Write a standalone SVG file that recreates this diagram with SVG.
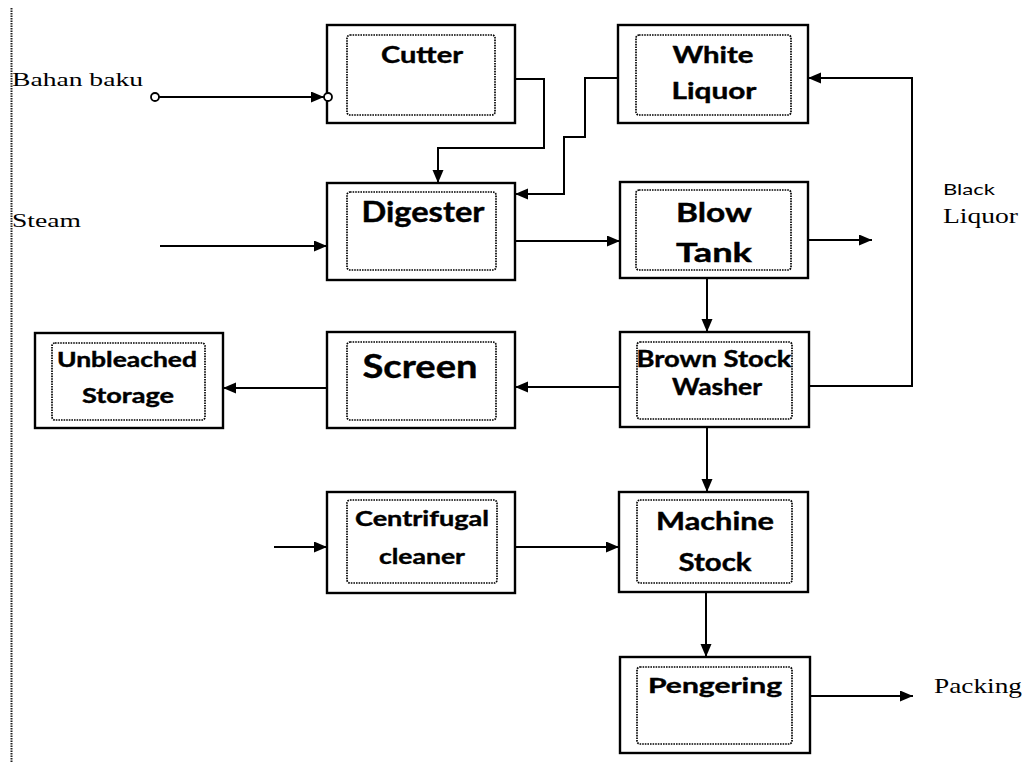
<svg xmlns="http://www.w3.org/2000/svg" width="1025" height="762" viewBox="0 0 1025 762">
<style>
.outer{fill:#fff;stroke:#000;stroke-width:2.4}
.inner{fill:none;stroke:#000;stroke-width:1.7;stroke-dasharray:1.6 1}
.lbl{font-family:Lato,"Open Sans","Liberation Sans",sans-serif;font-weight:bold;fill:#000;text-anchor:middle;stroke:#000;stroke-width:0.4}
.ser{font-family:"Liberation Serif","DejaVu Serif",serif;fill:#000}
.con{fill:none;stroke:#000;stroke-width:2}
</style>
<defs>
<marker id="ah" markerUnits="userSpaceOnUse" markerWidth="15" markerHeight="12" refX="13" refY="5.5" orient="auto">
<path d="M0,0 L13,5.5 L0,11 Z" fill="#000"/>
</marker>
</defs>
<rect width="1025" height="762" fill="#fff"/>
<line x1="11.5" y1="8" x2="11.5" y2="762" stroke="#222" stroke-width="2" stroke-dasharray="1.5 1"/>

<g id="cutter">
<rect class="outer" x="327" y="25" width="188" height="98"/>
<rect class="inner" x="347" y="35" width="148" height="80" rx="3"/>
<text class="lbl" x="422" y="63" font-size="22" textLength="82" lengthAdjust="spacingAndGlyphs">Cutter</text>
</g>
<g id="white-liquor">
<rect class="outer" x="618" y="25" width="190" height="98"/>
<rect class="inner" x="636" y="35" width="155" height="80" rx="3"/>
<text class="lbl" x="713" y="63" font-size="22" textLength="81" lengthAdjust="spacingAndGlyphs">White</text>
<text class="lbl" x="714" y="99" font-size="22" textLength="85" lengthAdjust="spacingAndGlyphs">Liquor</text>
</g>
<g id="digester">
<rect class="outer" x="327" y="183" width="188" height="97"/>
<rect class="inner" x="347" y="192" width="149" height="78" rx="3"/>
<text class="lbl" x="423" y="222" font-size="28" textLength="123" lengthAdjust="spacingAndGlyphs">Digester</text>
</g>
<g id="blow-tank">
<rect class="outer" x="620" y="182" width="188" height="96"/>
<rect class="inner" x="636" y="190" width="155" height="80" rx="3"/>
<text class="lbl" x="714" y="222" font-size="27" textLength="76" lengthAdjust="spacingAndGlyphs">Blow</text>
<text class="lbl" x="714" y="262" font-size="27" textLength="76" lengthAdjust="spacingAndGlyphs">Tank</text>
</g>
<g id="unbleached-storage">
<rect class="outer" x="35" y="333" width="188" height="95"/>
<rect class="inner" x="52" y="343" width="153" height="77" rx="3"/>
<text class="lbl" x="127" y="367" font-size="20" textLength="140" lengthAdjust="spacingAndGlyphs">Unbleached</text>
<text class="lbl" x="128" y="403" font-size="20" textLength="92" lengthAdjust="spacingAndGlyphs">Storage</text>
</g>
<g id="screen">
<rect class="outer" x="327" y="332" width="188" height="96"/>
<rect class="inner" x="347" y="342" width="149" height="78" rx="3"/>
<text class="lbl" x="420" y="378" font-size="33" textLength="115" lengthAdjust="spacingAndGlyphs">Screen</text>
</g>
<g id="brown-stock-washer">
<rect class="outer" x="620" y="332" width="189" height="95"/>
<rect class="inner" x="637" y="342" width="155" height="77" rx="3"/>
<text class="lbl" x="714" y="367" font-size="22" textLength="155" lengthAdjust="spacingAndGlyphs">Brown Stock</text>
<text class="lbl" x="717" y="395" font-size="22" textLength="90" lengthAdjust="spacingAndGlyphs">Washer</text>
</g>
<g id="centrifugal-cleaner">
<rect class="outer" x="327" y="492" width="188" height="101"/>
<rect class="inner" x="347" y="500" width="150" height="83" rx="3"/>
<text class="lbl" x="422" y="526" font-size="21" textLength="134" lengthAdjust="spacingAndGlyphs">Centrifugal</text>
<text class="lbl" x="422" y="564" font-size="21" textLength="86" lengthAdjust="spacingAndGlyphs">cleaner</text>
</g>
<g id="machine-stock">
<rect class="outer" x="619" y="492" width="189" height="100"/>
<rect class="inner" x="637" y="500" width="155" height="83" rx="3"/>
<text class="lbl" x="715" y="530" font-size="24" textLength="118" lengthAdjust="spacingAndGlyphs">Machine</text>
<text class="lbl" x="715" y="571" font-size="24" textLength="73" lengthAdjust="spacingAndGlyphs">Stock</text>
</g>
<g id="pengering">
<rect class="outer" x="620" y="657" width="190" height="96"/>
<rect class="inner" x="637" y="667" width="155" height="77" rx="3"/>
<text class="lbl" x="715" y="693" font-size="21" textLength="134" lengthAdjust="spacingAndGlyphs">Pengering</text>
</g>

<g id="labels">
<text class="ser" x="12" y="86" font-size="19" textLength="131" lengthAdjust="spacingAndGlyphs">Bahan baku</text>
<text class="ser" x="12" y="227" font-size="19" textLength="69" lengthAdjust="spacingAndGlyphs">Steam</text>
<text x="943" y="195" font-family="Lato,'Open Sans','Liberation Sans',sans-serif" font-size="16" fill="#000" textLength="52" lengthAdjust="spacingAndGlyphs">Black</text>
<text class="ser" x="943" y="223" font-size="21" textLength="75" lengthAdjust="spacingAndGlyphs">Liquor</text>
<text class="ser" x="934" y="693" font-size="21" textLength="88" lengthAdjust="spacingAndGlyphs">Packing</text>
</g>

<g id="connectors">
<line class="con" x1="159" y1="97" x2="324" y2="97" marker-end="url(#ah)"/>
<circle cx="155" cy="97" r="4" fill="#fff" stroke="#000" stroke-width="1.8"/>
<circle cx="328" cy="97" r="4" fill="#fff" stroke="#000" stroke-width="1.8"/>
<line class="con" x1="160" y1="246" x2="327" y2="246" marker-end="url(#ah)"/>
<path class="con" d="M515,79 H544 V148 H438 V183" marker-end="url(#ah)"/>
<path class="con" d="M618,78 H585 V137 H564 V194 H515" marker-end="url(#ah)"/>
<line class="con" x1="515" y1="241" x2="620" y2="241" marker-end="url(#ah)"/>
<line class="con" x1="808" y1="240" x2="872" y2="240" marker-end="url(#ah)"/>
<line class="con" x1="707" y1="278" x2="707" y2="332" marker-end="url(#ah)"/>
<line class="con" x1="620" y1="387" x2="515" y2="387" marker-end="url(#ah)"/>
<line class="con" x1="327" y1="388" x2="223" y2="388" marker-end="url(#ah)"/>
<path class="con" d="M809,386 H912 V78 H808" marker-end="url(#ah)"/>
<line class="con" x1="707" y1="427" x2="707" y2="492" marker-end="url(#ah)"/>
<line class="con" x1="274" y1="547" x2="327" y2="547" marker-end="url(#ah)"/>
<line class="con" x1="515" y1="547" x2="619" y2="547" marker-end="url(#ah)"/>
<line class="con" x1="706" y1="592" x2="706" y2="657" marker-end="url(#ah)"/>
<line class="con" x1="810" y1="696" x2="913" y2="696" marker-end="url(#ah)"/>
</g>
</svg>
